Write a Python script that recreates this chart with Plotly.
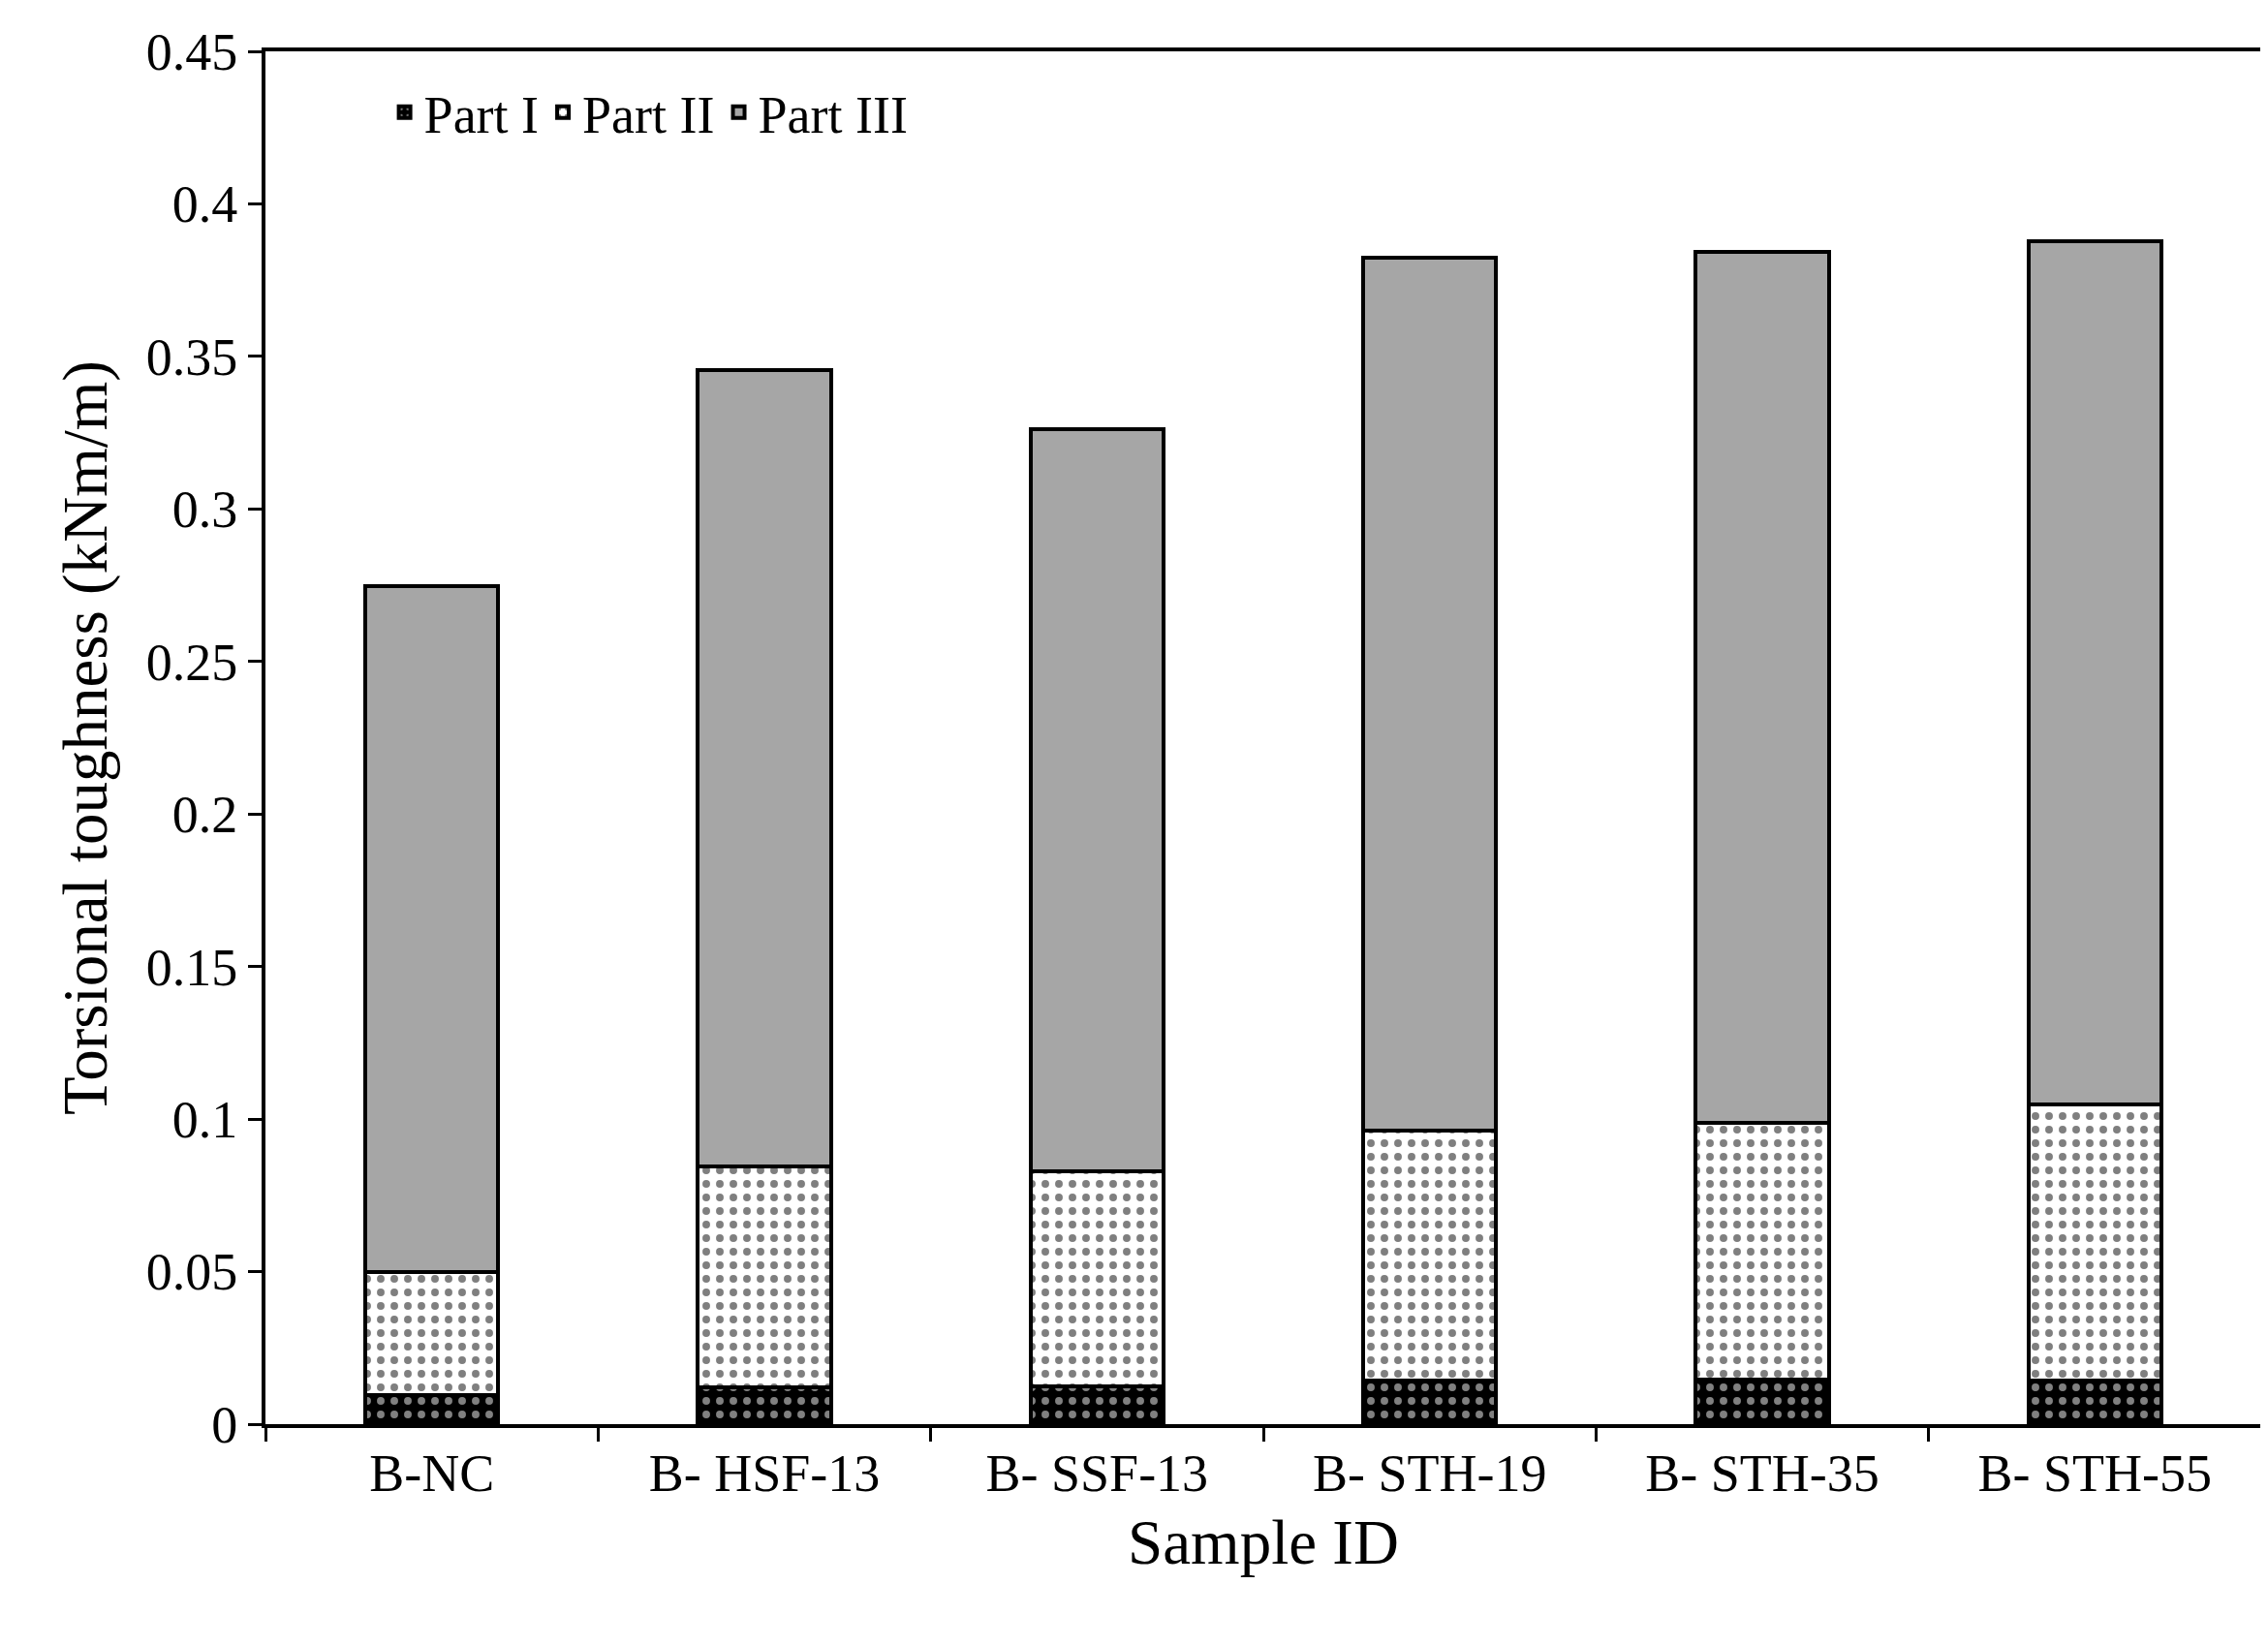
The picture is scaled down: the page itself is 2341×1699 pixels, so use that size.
import plotly.graph_objects as go

samples = ["B-NC", "B- HSF-13", "B- SSF-13", "B- STH-19", "B- STH-35", "B- STH-55"]
part1 = [0.0095, 0.0120, 0.0123, 0.0142, 0.0147, 0.0142]
part2_top = [0.0498, 0.0845, 0.0830, 0.0963, 0.0987, 0.1049]
totals = [0.2748, 0.3455, 0.3260, 0.3825, 0.3844, 0.3877]

part2 = [b - a for a, b in zip(part1, part2_top)]
part3 = [t - b for b, t in zip(part2_top, totals)]

font = "Liberation Serif, Times New Roman, serif"
line = dict(color="black", width=4)

fig = go.Figure()
fig.add_bar(x=samples, y=part1, name="Part I", width=0.4,
            marker=dict(color="black", line=line,
                        pattern=dict(shape=".", fgcolor="white", bgcolor="black", size=14, solidity=0.25)))
fig.add_bar(x=samples, y=part2, name="Part II", width=0.4,
            marker=dict(color="white", line=line,
                        pattern=dict(shape=".", fgcolor="black", bgcolor="white", size=14, solidity=0.25)))
fig.add_bar(x=samples, y=part3, name="Part III", width=0.4,
            marker=dict(color="#a6a6a6", line=line))

fig.update_layout(
    barmode="stack",
    width=2341, height=1699,
    paper_bgcolor="white", plot_bgcolor="white",
    margin=dict(l=266, r=15, t=45, b=237),
    font=dict(family=font, size=54, color="black"),
    legend=dict(orientation="h", x=0.06, y=0.985, xanchor="left", yanchor="top",
                font=dict(size=54), bgcolor="rgba(0,0,0,0)", traceorder="normal"),
    showlegend=True,
)
fig.update_xaxes(
    title=dict(text="Sample ID", standoff=20),
    showline=True, linecolor="black", linewidth=4, mirror=True,
    ticks="outside", tickson="boundaries", ticklen=14, tickwidth=3, tickcolor="black",
)
fig.update_yaxes(
    title=dict(text="Torsional toughness (kNm/m)", standoff=20),
    range=[0, 0.45], dtick=0.05, tickformat="~g",
    showline=True, linecolor="black", linewidth=4, mirror=True,
    ticks="outside", ticklen=14, tickwidth=3, tickcolor="black", showgrid=False, zeroline=False,
)

fig.write_html("out.html")
